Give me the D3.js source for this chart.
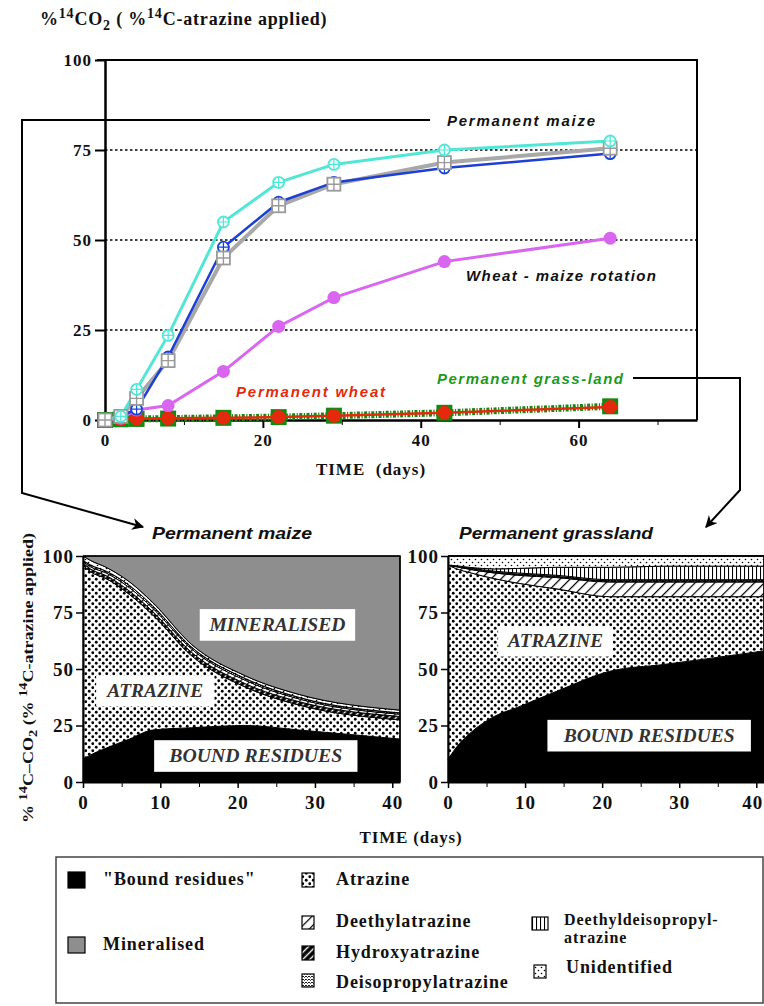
<!DOCTYPE html>
<meta charset="utf-8">
<style>
body { margin: 0; background: #fff; }
svg text { font-family: "Liberation Serif", "Times New Roman", serif; font-weight: bold; fill: #111; }
svg text.sans { font-family: "Liberation Sans", Arial, sans-serif; font-style: italic; font-weight: bold; }
svg text.box { font-style: italic; fill: #333; }
</style>
<body>
<script src="https://cdn.jsdelivr.net/npm/d3@7"></script>
<script>
// ---- top chart data (% 14CO2) ----
var topDays = [0, 2, 4, 8, 15, 22, 29, 43, 64];
var maizeCyan = [0, 1, 8.5, 23.5, 55, 66, 71, 75, 77.5];
var maizeBlue = [0, 1, 3, 17.5, 48, 60.5, 66, 70, 74];
var maizeGrey = [0, 1, 6, 16.5, 45, 59.5, 65.5, 71.5, 75.5];
var rotation = [0, 0.5, 2.8, 4, 13.5, 26, 34, 44, 50.5];
var wheat = [0, 0.2, 0.4, 0.5, 0.6, 0.8, 1.2, 2, 3.6];
var grass = [0, 0.2, 0.3, 0.4, 0.6, 0.8, 1.2, 2, 3.8];

// ---- bottom charts data (% of applied 14C) ----
var areaDays = [0, 1, 3, 6, 9, 14, 21, 28, 41];
var keys = ["bound", "atrazine", "hydroxy", "deethyl", "deisopropyl", "dedia", "unidentified", "mineralised"];

var maizeBound = [10, 12, 15, 19, 23, 24, 25, 23, 19];
var maizeAtrazine = [86, 81, 75, 64, 51, 32, 17, 11, 8.5];
var maizeHydroxy = [1, 1.2, 1.3, 1.5, 1.5, 1.5, 1.5, 1.5, 1.5];
var maizeDeethyl = [0.5, 1, 1.2, 1.5, 1.5, 1.5, 1.5, 1.2, 1];
var maizeDeisopropyl = [0.5, 0.8, 0.8, 1, 1, 0.8, 0.8, 0.7, 0.6];
var maizeDedia = [0, 0, 0, 0, 0, 0, 0, 0, 0];
var maizeUnidentified = [2, 2, 1.7, 1.6, 1.5, 1.2, 1.2, 1.3, 1.2];
var maizeMineralised = [0, 2, 5, 11.4, 20.5, 39, 53, 61.3, 68.2];

var grassBound = [10, 15, 22, 29, 33, 40, 49, 52, 58];
var grassAtrazine = [86, 79.5, 70.5, 61, 55, 45.5, 33, 30, 24];
var grassDeethyl = [0, 0.8, 1.5, 2.5, 3.5, 5, 6.5, 6.5, 6.5];
var grassHydroxy = [0, 0.2, 0.3, 0.4, 0.5, 0.5, 0.5, 0.5, 0.5];
var grassDeisopropyl = [0, 0.2, 0.3, 0.4, 0.5, 0.5, 0.5, 0.5, 0.5];
var grassDedia = [0, 0, 0.3, 1, 2, 3.5, 5.5, 6, 6];
var grassUnidentified = [4, 4.3, 5.1, 5.7, 5.5, 5, 5, 4.5, 4.5];
var grassMineralised = [0, 0, 0, 0, 0, 0, 0, 0, 0];

var svg = d3.select("body").append("svg")
    .attr("width", 764)
    .attr("height", 1006);

// ---- patterns ----
var defs = svg.append("defs");
function pattern(id, w, h, tr) {
    var p = defs.append("pattern").attr("id", id)
        .attr("patternUnits", "userSpaceOnUse")
        .attr("width", w).attr("height", h);
    if (tr) p.attr("patternTransform", tr);
    return p;
}
var p = pattern("pAtr", 7, 7);
p.append("rect").attr("width", 7).attr("height", 7).attr("fill", "#fff");
p.append("circle").attr("cx", 1.75).attr("cy", 1.75).attr("r", 1.4).attr("fill", "#000");
p.append("circle").attr("cx", 5.25).attr("cy", 5.25).attr("r", 1.4).attr("fill", "#000");

p = pattern("pUnid", 6, 6);
p.append("rect").attr("width", 6).attr("height", 6).attr("fill", "#fff");
p.append("circle").attr("cx", 1.5).attr("cy", 1.5).attr("r", 0.8).attr("fill", "#000");
p.append("circle").attr("cx", 4.5).attr("cy", 4.5).attr("r", 0.8).attr("fill", "#000");

p = pattern("pDeet", 7, 7, "rotate(45)");
p.append("rect").attr("width", 7).attr("height", 7).attr("fill", "#fff");
p.append("line").attr("x1", 0).attr("x2", 0).attr("y1", 0).attr("y2", 7).attr("stroke", "#000").attr("stroke-width", 2.4);

p = pattern("pHydr", 5, 5, "rotate(45)");
p.append("rect").attr("width", 5).attr("height", 5).attr("fill", "#000");
p.append("line").attr("x1", 2.5).attr("x2", 2.5).attr("y1", 0).attr("y2", 5).attr("stroke", "#fff").attr("stroke-width", 1.4);

p = pattern("pDeis", 6, 6);
p.append("rect").attr("width", 6).attr("height", 6).attr("fill", "#fff");
p.append("path").attr("d", "M0,1 L1.5,2.5 L3,1 L4.5,2.5 L6,1 M0,4 L1.5,5.5 L3,4 L4.5,5.5 L6,4")
    .attr("fill", "none").attr("stroke", "#000").attr("stroke-width", 0.9);

p = pattern("pDedia", 4, 4);
p.append("rect").attr("width", 4).attr("height", 4).attr("fill", "#fff");
p.append("line").attr("x1", 0.5).attr("x2", 0.5).attr("y1", 0).attr("y2", 4).attr("stroke", "#000").attr("stroke-width", 1.1);

var fills = {
    bound: "#000", atrazine: "url(#pAtr)", hydroxy: "url(#pHydr)", deethyl: "url(#pDeet)",
    deisopropyl: "url(#pDeis)", dedia: "url(#pDedia)", unidentified: "url(#pUnid)", mineralised: "#8e8e8e"
};

defs.append("marker").attr("id", "arrow")
    .attr("viewBox", "0 0 10 10").attr("refX", 9).attr("refY", 5)
    .attr("markerWidth", 8).attr("markerHeight", 6).attr("markerUnits", "strokeWidth")
    .attr("orient", "auto")
    .append("path").attr("d", "M0,0 L10,5 L0,10 L3,5 Z").attr("fill", "#000");

// ================= TOP CHART =================
var xT = d3.scaleLinear().domain([0, 75]).range([105, 697]);
var yT = d3.scaleLinear().domain([0, 100]).range([420, 60]);

// title
var t = svg.append("text").attr("x", 40).attr("y", 25).style("font-size", "18px").style("letter-spacing", "0.8px");
t.append("tspan").text("%");
t.append("tspan").attr("dy", -7).style("font-size", "14px").text("14");
t.append("tspan").attr("dy", 7).text("CO");
t.append("tspan").attr("dy", 5).style("font-size", "14px").text("2");
t.append("tspan").attr("dy", -5).text(" ( %");
t.append("tspan").attr("dy", -7).style("font-size", "14px").text("14");
t.append("tspan").attr("dy", 7).text("C-atrazine applied)");

// grid lines
svg.append("g").selectAll("line").data([25, 50, 75]).enter().append("line")
    .attr("x1", xT(0)).attr("x2", xT(75))
    .attr("y1", function(d) { return yT(d); }).attr("y2", function(d) { return yT(d); })
    .attr("stroke", "#000").attr("stroke-width", 1.4).attr("stroke-dasharray", "2.5,2.5");

// frame (top and right)
svg.append("path")
    .attr("d", "M" + (xT(0) - 8) + "," + yT(100) + "H" + xT(75) + "V" + yT(0))
    .attr("fill", "none").attr("stroke", "#000").attr("stroke-width", 2);

// axes
var gy = svg.append("g").attr("transform", "translate(" + xT(0) + ",0)")
    .call(d3.axisLeft(yT).tickValues([0, 25, 50, 75, 100]).tickSize(10).tickSizeOuter(0).tickPadding(3));
var gx = svg.append("g").attr("transform", "translate(0," + yT(0) + ")")
    .call(d3.axisBottom(xT).tickValues([0, 20, 40, 60]).tickSize(8).tickSizeOuter(0).tickPadding(6));
svg.append("g").attr("transform", "translate(0," + yT(0) + ")")
    .call(d3.axisBottom(xT).tickValues([10, 30, 50, 70]).tickSize(5).tickFormat(""))
    .select(".domain").remove();
[gy, gx].forEach(function(g) {
    g.select(".domain").attr("stroke-width", 2.5);
    g.selectAll(".tick line").attr("stroke-width", 2);
    g.selectAll("text").style("font-size", "17px").style("letter-spacing", "1px")
        .style("font-family", "Liberation Serif").style("font-weight", "bold");
});
svg.append("text").attr("x", 371).attr("y", 475).attr("text-anchor", "middle")
    .style("font-size", "17px").style("letter-spacing", "1px").attr("xml:space", "preserve").text("TIME  (days)");

// connectors
svg.append("path").attr("d", "M430,120 H22 V493 L143,527")
    .attr("fill", "none").attr("stroke", "#000").attr("stroke-width", 2).attr("marker-end", "url(#arrow)");
svg.append("path").attr("d", "M633,378 H740 V490 L706,527")
    .attr("fill", "none").attr("stroke", "#000").attr("stroke-width", 2).attr("marker-end", "url(#arrow)");

function rowsOf(vals) { return topDays.map(function(d, i) { return [d, vals[i]]; }); }
var line = d3.line().x(function(d) { return xT(d[0]); }).y(function(d) { return yT(d[1]); });

// grass-land (green, dashed) and wheat (red)
svg.append("path").datum(rowsOf(grass)).attr("d", line)
    .attr("fill", "none").attr("stroke", "#128a12").attr("stroke-width", 7).attr("stroke-dasharray", "3,1.5,1.2,1.5");
svg.append("g").selectAll("rect").data(rowsOf(grass)).enter().append("rect")
    .attr("x", function(d) { return xT(d[0]) - 8; }).attr("y", function(d) { return yT(d[1]) - 8; })
    .attr("width", 16).attr("height", 16).attr("fill", "#128a12");
svg.append("path").datum(rowsOf(wheat)).attr("d", line)
    .attr("fill", "none").attr("stroke", "#e42a0c").attr("stroke-width", 2.5);
svg.append("g").selectAll("circle").data(rowsOf(wheat).slice(1)).enter().append("circle")
    .attr("cx", function(d) { return xT(d[0]); }).attr("cy", function(d) { return yT(d[1]); })
    .attr("r", 7).attr("fill", "#e42a0c");

// wheat-maize rotation (magenta)
svg.append("path").datum(rowsOf(rotation)).attr("d", line)
    .attr("fill", "none").attr("stroke", "#d966ee").attr("stroke-width", 3);
svg.append("g").selectAll("circle").data(rowsOf(rotation).slice(1)).enter().append("circle")
    .attr("cx", function(d) { return xT(d[0]); }).attr("cy", function(d) { return yT(d[1]); })
    .attr("r", 6.5).attr("fill", "#d966ee");

// permanent maize (three replicates)
svg.append("path").datum(rowsOf(maizeGrey)).attr("d", line)
    .attr("fill", "none").attr("stroke", "#a8a8a8").attr("stroke-width", 4);
svg.append("path").datum(rowsOf(maizeBlue)).attr("d", line)
    .attr("fill", "none").attr("stroke", "#1e3fd4").attr("stroke-width", 2.5);
svg.append("path").datum(rowsOf(maizeCyan)).attr("d", line)
    .attr("fill", "none").attr("stroke", "#52e6d6").attr("stroke-width", 3);

function crossCircles(vals, color) {
    var g = svg.append("g").selectAll("g").data(rowsOf(vals).slice(1)).enter().append("g")
        .attr("transform", function(d) { return "translate(" + xT(d[0]) + "," + yT(d[1]) + ")"; });
    g.append("circle").attr("r", 5.5).attr("fill", "#f4fffe").attr("stroke", color).attr("stroke-width", 1.8);
    g.append("path").attr("d", "M-5,0H5M0,-5V5").attr("stroke", color).attr("stroke-width", 1.2);
}
crossCircles(maizeBlue, "#1e3fd4");
var sq = svg.append("g").selectAll("g").data(rowsOf(maizeGrey)).enter().append("g")
    .attr("transform", function(d) { return "translate(" + xT(d[0]) + "," + yT(d[1]) + ")"; });
sq.append("rect").attr("x", -6.5).attr("y", -6.5).attr("width", 13).attr("height", 13)
    .attr("fill", "#fff").attr("stroke", "#9a9a9a").attr("stroke-width", 1.8);
sq.append("path").attr("d", "M-6,0H6M0,-6V6").attr("stroke", "#9a9a9a").attr("stroke-width", 1.4);
crossCircles(maizeCyan, "#52e6d6");

// series labels
function seriesLabel(txt, x, y, len, color) {
    svg.append("text").attr("class", "sans").attr("x", x).attr("y", y)
        .attr("textLength", len).attr("lengthAdjust", "spacing")
        .style("font-size", "15px").style("fill", color).text(txt);
}
seriesLabel("Permanent  maize", 447, 126, 148, "#111");
seriesLabel("Wheat  -  maize  rotation", 466, 281, 190, "#111");
seriesLabel("Permanent  wheat", 236, 397, 149, "#e42a0c");
seriesLabel("Permanent  grass-land", 437, 384, 186, "#1c9a1c");

// ================= BOTTOM CHARTS =================
function table(b, a, h, de, di, dd, u, m) {
    return areaDays.map(function(d, i) {
        return { day: d, bound: b[i], atrazine: a[i], hydroxy: h[i], deethyl: de[i],
                 deisopropyl: di[i], dedia: dd[i], unidentified: u[i], mineralised: m[i] };
    });
}
var maizeRows = table(maizeBound, maizeAtrazine, maizeHydroxy, maizeDeethyl, maizeDeisopropyl,
    maizeDedia, maizeUnidentified, maizeMineralised);
var grassKeys = ["bound", "atrazine", "deethyl", "hydroxy", "deisopropyl", "dedia", "unidentified", "mineralised"];
var grassRows = table(grassBound, grassAtrazine, grassHydroxy, grassDeethyl, grassDeisopropyl,
    grassDedia, grassUnidentified, grassMineralised);

function stackChart(rows, order, x0, x1, title, titleLen, labels) {
    var x = d3.scaleLinear().domain([0, 41]).range([x0, x1]);
    var y = d3.scaleLinear().domain([0, 100]).range([782, 556]);
    var g = svg.append("g");
    var series = d3.stack().keys(order)(rows);
    var area = d3.area().curve(d3.curveMonotoneX)
        .x(function(d) { return x(d.data.day); })
        .y0(function(d) { return y(d[0]); })
        .y1(function(d) { return y(d[1]); });
    g.selectAll("path.layer").data(series).enter().append("path").attr("class", "layer")
        .attr("d", area)
        .attr("fill", function(d) { return fills[d.key]; })
        .attr("stroke", "#000").attr("stroke-width", 1);
    // frame
    g.append("path").attr("d", "M" + x(0) + "," + y(100) + "H" + x(41) + "V" + y(0))
        .attr("fill", "none").attr("stroke", "#000").attr("stroke-width", 1.5);
    var ax = g.append("g").attr("transform", "translate(" + x(0) + ",0)")
        .call(d3.axisLeft(y).tickValues([0, 25, 50, 75, 100]).tickSize(7).tickSizeOuter(0).tickPadding(2));
    var bx = g.append("g").attr("transform", "translate(0," + y(0) + ")")
        .call(d3.axisBottom(x).tickValues([0, 10, 20, 30, 40]).tickSize(6).tickSizeOuter(0).tickPadding(8));
    g.append("g").attr("transform", "translate(0," + y(0) + ")")
        .call(d3.axisBottom(x).tickValues([5, 15, 25, 35]).tickSize(5).tickFormat(""))
        .select(".domain").remove();
    [ax, bx].forEach(function(a) {
        a.select(".domain").attr("stroke-width", 2);
        a.selectAll(".tick line").attr("stroke-width", 1.5);
        a.selectAll("text").style("font-size", "19px").style("letter-spacing", "1px")
            .style("font-family", "Liberation Serif").style("font-weight", "bold");
    });
    // keep the last x label inside the page
    bx.selectAll(".tick text").filter(function(d) { return d === 40 && x1 > 700; }).attr("dx", -4);
    svg.append("text").attr("class", "sans").attr("x", x(0) + (x0 < 200 ? 69 : 11)).attr("y", 539)
        .attr("textLength", titleLen).attr("lengthAdjust", "spacingAndGlyphs")
        .style("font-size", "17px").text(title);
    labels.forEach(function(l) {
        g.append("rect").attr("x", x(l.d0)).attr("y", y(l.v1))
            .attr("width", x(l.d1) - x(l.d0)).attr("height", y(l.v0) - y(l.v1)).attr("fill", "#fff");
        g.append("text").attr("class", "box").attr("x", (x(l.d0) + x(l.d1)) / 2)
            .attr("y", (y(l.v0) + y(l.v1)) / 2 + 6).attr("text-anchor", "middle")
            .attr("textLength", l.len).attr("lengthAdjust", "spacingAndGlyphs")
            .style("font-size", "18px").text(l.text);
    });
}

stackChart(maizeRows, keys, 83, 400, "Permanent maize", 160, [
    { text: "MINERALISED", d0: 15.1, d1: 35.2, v0: 62.5, v1: 76.5, len: 136 },
    { text: "ATRAZINE", d0: 1.7, d1: 17, v0: 33.5, v1: 47, len: 96 },
    { text: "BOUND RESIDUES", d0: 9.2, d1: 35.5, v0: 4.5, v1: 18.5, len: 173 }
]);
stackChart(grassRows, grassKeys, 448, 764, "Permanent grassland", 194, [
    { text: "ATRAZINE", d0: 6.5, d1: 21.4, v0: 55.5, v1: 69, len: 95 },
    { text: "BOUND RESIDUES", d0: 12.9, d1: 39.3, v0: 13.5, v1: 27.5, len: 171 }
]);

// shared y label (rotated) and x label
var yl = svg.append("text").attr("transform", "translate(33,678) rotate(-90)")
    .attr("text-anchor", "middle").attr("textLength", 290).attr("lengthAdjust", "spacingAndGlyphs")
    .style("font-size", "15px");
yl.append("tspan").text("% ");
yl.append("tspan").attr("dy", -6).style("font-size", "12px").text("14");
yl.append("tspan").attr("dy", 6).text("C\u2013CO");
yl.append("tspan").attr("dy", 4).style("font-size", "12px").text("2");
yl.append("tspan").attr("dy", -4).text(" (% ");
yl.append("tspan").attr("dy", -6).style("font-size", "12px").text("14");
yl.append("tspan").attr("dy", 6).text("C-atrazine applied)");

svg.append("text").attr("x", 411).attr("y", 843).attr("text-anchor", "middle")
    .style("font-size", "17px").style("letter-spacing", "0.8px").text("TIME (days)");

// ================= LEGEND =================
svg.append("rect").attr("x", 56).attr("y", 857).attr("width", 707).attr("height", 146)
    .attr("fill", "none").attr("stroke", "#444").attr("stroke-width", 1.5);
var legendItems = [
    { key: "bound", x: 68, y: 872, w: 17, h: 16, lines: ["\"Bound residues\""], tx: 103, ty: 885, fs: 18 },
    { key: "mineralised", x: 68, y: 937, w: 17, h: 16, lines: ["Mineralised"], tx: 103, ty: 950, fs: 18 },
    { key: "atrazine", x: 302, y: 873, w: 12, h: 14, lines: ["Atrazine"], tx: 336, ty: 885, fs: 18 },
    { key: "deethyl", x: 302, y: 916, w: 12, h: 13, lines: ["Deethylatrazine"], tx: 336, ty: 927, fs: 18 },
    { key: "hydroxy", x: 302, y: 946, w: 12, h: 14, lines: ["Hydroxyatrazine"], tx: 336, ty: 958, fs: 18 },
    { key: "deisopropyl", x: 302, y: 974, w: 12, h: 13, lines: ["Deisopropylatrazine"], tx: 336, ty: 988, fs: 18 },
    { key: "dedia", x: 532, y: 917, w: 16, h: 13, lines: ["Deethyldeisopropyl-", "atrazine"], tx: 564, ty: 925, fs: 16 },
    { key: "unidentified", x: 534, y: 965, w: 12, h: 13, lines: ["Unidentified"], tx: 566, ty: 973, fs: 18 }
];
var li = svg.append("g").selectAll("g").data(legendItems).enter().append("g");
li.append("rect").attr("x", function(d) { return d.x; }).attr("y", function(d) { return d.y; })
    .attr("width", function(d) { return d.w; }).attr("height", function(d) { return d.h; })
    .attr("fill", function(d) { return fills[d.key]; })
    .attr("stroke", "#000").attr("stroke-width", 1.2);
li.each(function(d) {
    var txt = d3.select(this).append("text").attr("x", d.tx).attr("y", d.ty)
        .style("font-size", d.fs + "px").style("letter-spacing", "0.9px");
    d.lines.forEach(function(s, i) {
        txt.append("tspan").attr("x", d.tx).attr("dy", i ? 18 : 0).text(s);
    });
});
</script>
</body>
